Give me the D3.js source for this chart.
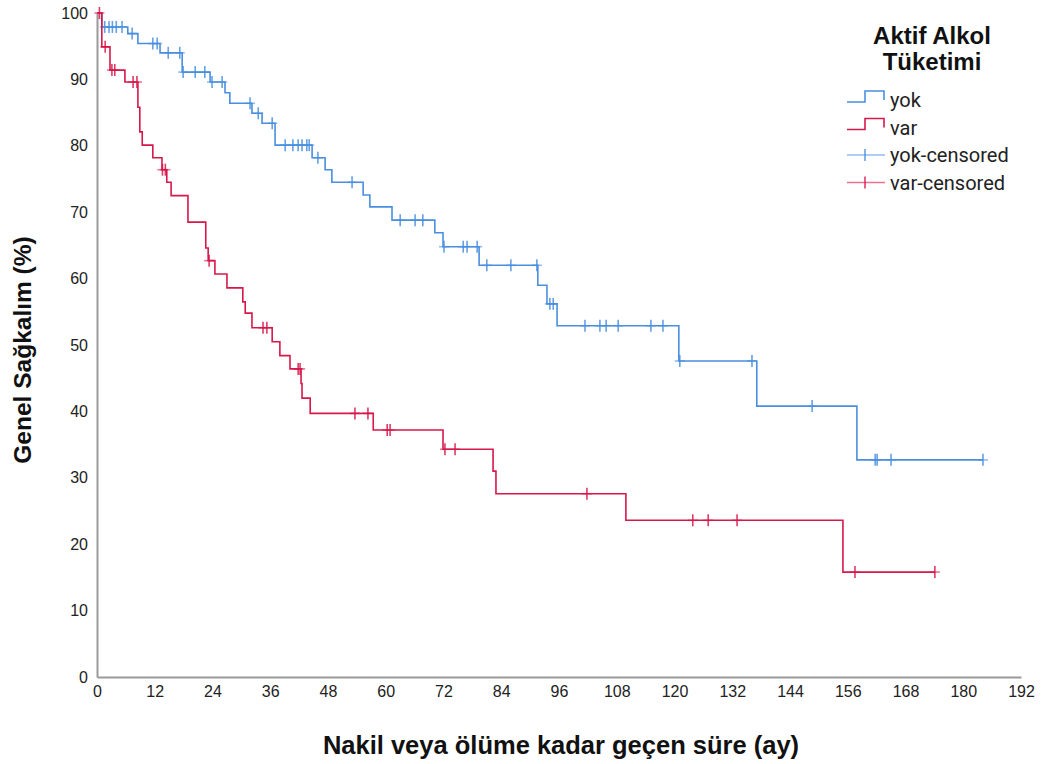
<!DOCTYPE html>
<html>
<head>
<meta charset="utf-8">
<script src="https://cdn.jsdelivr.net/npm/d3@7"></script>
<style>
  body { margin: 0; background: #fff; }
  svg { font-family: "Liberation Sans", Arial, sans-serif; }
</style>
</head>
<body>
<svg id="chart"></svg>
<script>
// Kaplan-Meier steps: [month, survival %]
const yokEvents = [
  [1.0, 97.9], [6.4, 96.9], [8.5, 95.4], [13.1, 94.0], [17.7, 91.1],
  [23.5, 89.6], [26.6, 88.0], [27.6, 86.4], [32.2, 84.9], [34.3, 83.4],
  [37.0, 80.1], [44.7, 78.2], [47.4, 76.4], [48.8, 74.5], [55.3, 72.6],
  [56.7, 70.8], [61.3, 68.8], [70.2, 66.9], [71.9, 64.8], [79.4, 62.0],
  [91.6, 59.0], [93.5, 56.2], [95.6, 52.9], [120.9, 47.6], [137.1, 40.8],
  [157.9, 32.7],
];
const yokCensored = [
  1.6, 2.5, 3.2, 4.0, 5.2, 7.3, 11.6, 12.5, 14.8, 17.2, 17.9, 20.4, 22.4,
  23.9, 26.0, 31.8, 33.5, 36.4, 39.1, 40.7, 41.8, 42.6, 43.6, 44.1, 45.9,
  53.0, 63.0, 66.1, 67.7, 72.1, 76.1, 76.9, 79.0, 81.0, 86.0, 91.4, 94.1,
  94.8, 101.4, 104.5, 105.8, 108.3, 115.1, 117.6, 121.1, 136.1, 148.6,
  161.7, 162.1, 165.0, 184.1,
];

const varEvents = [
  [1.0, 94.9], [2.7, 91.4], [5.8, 89.6], [8.5, 85.8], [8.9, 82.1],
  [9.4, 80.1], [11.6, 78.2], [13.5, 76.4], [14.5, 74.5], [15.4, 72.5],
  [18.9, 68.5], [22.6, 64.6], [23.1, 62.7], [24.5, 60.7], [27.0, 58.6],
  [30.3, 56.5], [30.8, 54.8], [32.2, 52.6], [36.4, 50.5], [38.0, 48.4],
  [40.1, 46.4], [42.4, 44.2], [42.6, 42.0], [44.3, 39.7], [57.4, 37.2],
  [71.9, 34.3], [82.3, 31.0], [82.9, 27.6], [109.9, 23.6], [155.0, 15.8],
];
const varCensored = [
  0.5, 1.7, 3.1, 3.7, 7.5, 8.3, 13.6, 14.2, 23.3, 34.5, 35.3, 41.8, 42.2,
  53.6, 56.3, 60.3, 60.9, 72.3, 74.4, 101.8, 123.8, 127.0, 133.0, 157.5,
  174.1,
];

const xTicks = d3.range(0, 193, 12);
const yTicks = d3.range(0, 101, 10);
const groups = ['yok', 'var'];

const width = 1048;
const height = 764;
const colors = { yok: '#4a8fdf', var: '#d7184a' };

const svg = d3.select('#chart')
  .attr('width', width)
  .attr('height', height);

const x = d3.scaleLinear().domain([0, 192]).range([97, 1021]);
const y = d3.scaleLinear().domain([0, 100]).range([677, 13]);

// axes: plain grey lines, labels only
const xAxis = svg.append('g')
  .attr('transform', `translate(0, ${y(0)})`)
  .call(d3.axisBottom(x).tickValues(xTicks).tickSize(0).tickPadding(9));
const yAxis = svg.append('g')
  .attr('transform', `translate(${x(0)}, 0)`)
  .call(d3.axisLeft(y).tickValues(yTicks).tickSize(0).tickPadding(9));
[xAxis, yAxis].forEach((a) => {
  a.select('.domain').attr('stroke', '#9a9a9a').attr('stroke-width', 2);
  a.selectAll('text')
    .attr('fill', '#222')
    .style('font-size', '16px')
    .style('font-family', '"Liberation Sans", Arial, sans-serif');
});

const stepLine = d3.line()
  .x((d) => x(d[0]))
  .y((d) => y(d[1]))
  .curve(d3.curveStepAfter);

function levelAt(events, t) {
  let s = 100;
  events.forEach((e) => { if (e[0] <= t) s = e[1]; });
  return s;
}

const series = {
  yok: { events: yokEvents, censored: yokCensored },
  var: { events: varEvents, censored: varCensored },
};

groups.forEach((g) => {
  const { events, censored } = series[g];
  const end = d3.max(censored);
  const pts = [[0, 100], ...events, [end, levelAt(events, end)]];

  svg.append('path')
    .datum(pts)
    .attr('fill', 'none')
    .attr('stroke', colors[g])
    .attr('stroke-width', 1.6)
    .attr('d', stepLine);

  svg.append('g')
    .selectAll('line')
    .data(censored)
    .join('line')
    .attr('x1', (d) => x(d))
    .attr('x2', (d) => x(d))
    .attr('y1', (d) => y(levelAt(events, d)) - 6)
    .attr('y2', (d) => y(levelAt(events, d)) + 6)
    .attr('stroke', colors[g])
    .attr('stroke-opacity', 0.85)
    .attr('stroke-width', 1.6);

  svg.append('g')
    .selectAll('line')
    .data(censored)
    .join('line')
    .attr('x1', (d) => x(d) - 5)
    .attr('x2', (d) => x(d) + 5)
    .attr('y1', (d) => y(levelAt(events, d)))
    .attr('y2', (d) => y(levelAt(events, d)))
    .attr('stroke', colors[g])
    .attr('stroke-opacity', 0.6)
    .attr('stroke-width', 1.6);
});

// axis titles
svg.append('text')
  .attr('x', 561)
  .attr('y', 754)
  .attr('text-anchor', 'middle')
  .style('font-size', '25.5px')
  .style('font-weight', 'bold')
  .attr('fill', '#111')
  .text('Nakil veya ölüme kadar geçen süre (ay)');

svg.append('text')
  .attr('transform', 'translate(31, 350) rotate(-90)')
  .attr('text-anchor', 'middle')
  .style('font-size', '24.5px')
  .style('font-weight', 'bold')
  .attr('fill', '#111')
  .text('Genel Sağkalım (%)');

// legend
const legend = svg.append('g');
legend.append('text')
  .attr('x', 932)
  .attr('y', 44)
  .attr('text-anchor', 'middle')
  .style('font-size', '24px')
  .style('font-weight', 'bold')
  .attr('fill', '#111')
  .text('Aktif Alkol');
legend.append('text')
  .attr('x', 932)
  .attr('y', 70)
  .attr('text-anchor', 'middle')
  .style('font-size', '24px')
  .style('font-weight', 'bold')
  .attr('fill', '#111')
  .text('Tüketimi');

const legendItems = [
  { label: 'yok', group: 'yok', kind: 'step' },
  { label: 'var', group: 'var', kind: 'step' },
  { label: 'yok-censored', group: 'yok', kind: 'cens' },
  { label: 'var-censored', group: 'var', kind: 'cens' },
];
legendItems.forEach((it, i) => {
  const cy = 100 + i * 27.5;
  const c = colors[it.group];
  if (it.kind === 'step') {
    legend.append('path')
      .attr('d', `M847,${cy + 2}H865V${cy - 9}H884V${cy}`)
      .attr('fill', 'none')
      .attr('stroke', c)
      .attr('stroke-width', 1.6);
  } else {
    legend.append('line')
      .attr('x1', 847).attr('x2', 885)
      .attr('y1', cy).attr('y2', cy)
      .attr('stroke', c).attr('stroke-opacity', 0.6).attr('stroke-width', 1.6);
    legend.append('line')
      .attr('x1', 865).attr('x2', 865)
      .attr('y1', cy - 6).attr('y2', cy + 6)
      .attr('stroke', c).attr('stroke-opacity', 0.85).attr('stroke-width', 1.6);
  }
  legend.append('text')
    .attr('x', 890)
    .attr('y', cy + 7)
    .style('font-size', '20px')
    .style('font-family', 'Roboto, sans-serif')
    .attr('fill', '#222')
    .text(it.label);
});
</script>
</body>
</html>
